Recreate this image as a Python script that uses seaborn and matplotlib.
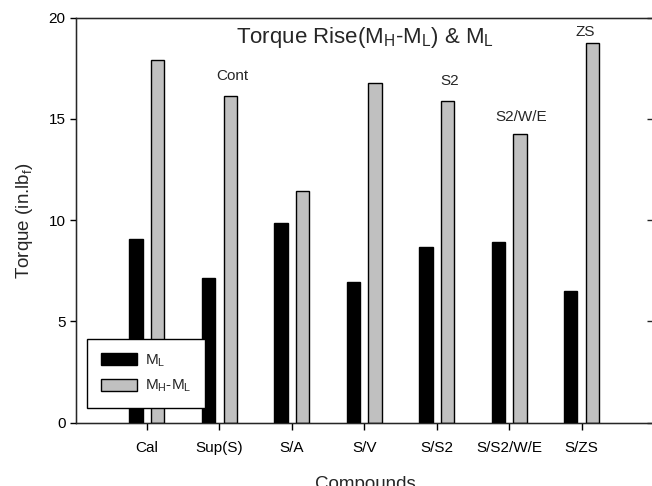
import matplotlib
matplotlib.use("Agg")
import matplotlib.pyplot as plt
import seaborn as sns
import pandas as pd

compounds = ["Cal", "Sup(S)", "S/A", "S/V", "S/S2", "S/S2/W/E", "S/ZS"]
ml_values = [9.06, 7.16, 9.88, 6.93, 8.66, 8.94, 6.52]
rise_values = [17.91, 16.13, 11.46, 16.76, 15.90, 14.27, 18.77]
series_names = ["M$_L$", "M$_H$-M$_L$"]
annot_labels = {"Sup(S)": "Cont", "S/S2": "S2", "S/S2/W/E": "S2/W/E", "S/ZS": "ZS"}
yticks = [0, 5, 10, 15, 20]

df = pd.DataFrame({
    "Compound": compounds * 2,
    "Torque": ml_values + rise_values,
    "Series": [series_names[0]] * len(compounds) + [series_names[1]] * len(compounds),
})

sns.set_style("ticks")
plt.rcParams["font.family"] = ["Liberation Sans", "DejaVu Sans"]
plt.rcParams["mathtext.default"] = "regular"

fig = plt.figure(figsize=(6.52, 4.86), dpi=100)
W, H = 652, 486
ax = fig.add_axes([76 / W, (486 - 422.7) / H, 578 / W, 405 / H])

sns.barplot(data=df, x="Compound", y="Torque", hue="Series", order=compounds,
            hue_order=series_names, palette=["black", "#c0c0c0"],
            width=0.596, gap=0.38, edgecolor="black", linewidth=1,
            ax=ax, legend=True)

ax.set_xlim(-0.98, 7.0)
ax.set_ylim(0, 20)
ax.set_yticks(yticks)
ax.set_xlabel("Compounds", fontsize=13.5, labelpad=15)
ax.set_ylabel("Torque (in.lb$_f$)", fontsize=13.5, labelpad=10)
ax.tick_params(axis="both", direction="out", length=4, width=1, labelsize=11,
               colors="black")
ax.tick_params(axis="x", length=5, pad=8)
for side in ["left", "top", "bottom", "right"]:
    ax.spines[side].set_visible(True)
    ax.spines[side].set_color("black")
    ax.spines[side].set_linewidth(1)

twin = ax.twinx()
twin.set_ylim(0, 20)
twin.set_yticks(yticks)
twin.tick_params(axis="y", direction="in", length=5, width=1, labelright=False)
twin.spines["right"].set_color("black")

ax.text(0.5, 0.95, "Torque Rise(M$_H$-M$_L$) & M$_L$", transform=ax.transAxes,
        ha="center", va="center", fontsize=16)

# annotations above gray bars
gray_patches = [p for p in ax.patches if p.get_height() > 0][len(compounds):2 * len(compounds)]
offsets = {"Cont": (1.4, 14.4), "S2": (1.7, 14.0), "S2/W/E": (1.2, 12.2), "ZS": (-5.3, 7.7)}
for comp, lab in annot_labels.items():
    i = compounds.index(comp)
    p = gray_patches[i]
    xc = p.get_x() + p.get_width() / 2
    dx, dy = offsets[lab]
    ax.annotate(lab, (xc, p.get_height()), xytext=(dx, dy), textcoords="offset points",
                ha="center", va="center", fontsize=11)

leg = ax.legend(loc="lower left", bbox_to_anchor=(0.019, 0.036), frameon=True,
                fancybox=False, shadow=False, fontsize=11, handlelength=2.4,
                handleheight=0.8, labelspacing=0.6, borderpad=0.9,
                handletextpad=0.5, borderaxespad=0)
leg.get_frame().set_edgecolor("black")
leg.get_frame().set_linewidth(1)
leg.get_frame().set_alpha(1)

fig.savefig("out.png", dpi=100)
